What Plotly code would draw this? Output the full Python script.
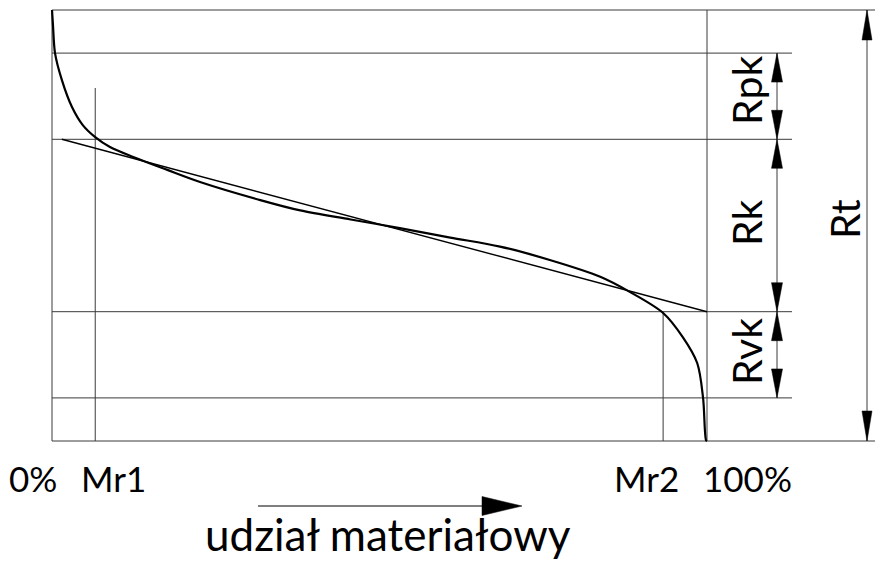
import plotly.graph_objects as go

# ---------------- data ----------------
# Abbott-Firestone (material ratio) curve: material ratio [%] vs. height [% of Rt]
curve_mr = [0, 0.15, 0.46, 1.5, 3.05, 4.7, 6.6, 8.85, 12.4, 17.6, 22.6, 31.8, 37.9,
            45.6, 53.1, 60.8, 68.4, 76.0, 83.7, 88.2, 93.3, 96.3, 98.5, 99.4, 99.85, 100]
curve_h = [100, 96.5, 90, 83.8, 77.5, 73.3, 70.5, 68.2, 65.9, 62.9, 60.1, 55.9, 53.5,
           51.4, 49.4, 47.2, 45.1, 42.0, 38.1, 34.6, 29.7, 24.1, 18.1, 10.0, 0.2, 0]

# equivalent straight line (core roughness line)
tangent_mr = [1.5, 100]
tangent_h = [70, 30]

# level lines: top (Rt), Rpk limit, Rk upper, Rk lower, Rvk limit, bottom
levels = [100, 90, 70, 30, 10, 0]
level_full = [True, False, False, False, False, True]   # lines running to the right edge

mr1 = 6.6
mr1_top = 81.9
mr2 = 93.3

dim_labels = ["Rpk", "Rk", "Rvk"]
dim_spans = [(90, 70), (70, 30), (30, 10)]
rt_label = "Rt"

bottom_labels = ["0%", "Mr1", "Mr2", "100%"]
axis_title = "udział materiałowy"

# ---------------- pixel mapping helpers (layout) ----------------
W, H = 875, 563
X0PX, SX = 52.0, 6.55      # px of 0 %, px per %
Y0PX, SY = 441.0, 4.31     # px of height 0, px per height unit


def px2x(px):
    return (px - X0PX) / SX


def py2y(py):
    return (Y0PX - py) / SY


XR = [px2x(0), px2x(W)]
YR = [py2y(H), py2y(0)]

x_full = px2x(W + 2)
x_dim = px2x(792)
x_dimarrow = px2x(777)
x_rtarrow = px2x(867)

GRID = dict(color="#3a3a3a", width=1)
fig = go.Figure()


def add_line(xs, ys, line):
    fig.add_trace(go.Scatter(x=xs, y=ys, mode="lines", line=line,
                             hoverinfo="skip", showlegend=False))


def add_tri(xs, ys):
    fig.add_trace(go.Scatter(x=xs + [xs[0]], y=ys + [ys[0]], mode="lines",
                             fill="toself", fillcolor="black",
                             line=dict(color="black", width=0.5),
                             hoverinfo="skip", showlegend=False))


def v_arrowhead(x, tip_h, direction, length_px=29, half_px=5.5):
    # direction +1: pointing up, -1: pointing down
    base = tip_h - direction * length_px / SY
    hw = half_px / SX
    add_tri([x, x - hw, x + hw], [tip_h, base, base])


# level lines
for lv, full in zip(levels, level_full):
    add_line([0, x_full if full else x_dim], [lv, lv], GRID)

# left border and 100 % vertical
add_line([0, 0], [levels[-1], levels[0]], GRID)
add_line([100, 100], [levels[-1], levels[0]], GRID)

# Mr1 / Mr2 verticals
add_line([mr1, mr1], [0, mr1_top], GRID)
add_line([mr2, mr2], [0, dim_spans[1][1]], GRID)

# tangent (equivalent) line
add_line(tangent_mr, tangent_h, dict(color="black", width=1.4))

# material ratio curve
add_line(curve_mr, curve_h, dict(color="black", width=2.2, shape="spline", smoothing=0.9))

# dimension arrows Rpk / Rk / Rvk
add_line([x_dimarrow, x_dimarrow], [dim_spans[0][0], dim_spans[-1][1]], GRID)
for top, bot in dim_spans:
    v_arrowhead(x_dimarrow, top, +1)
    v_arrowhead(x_dimarrow, bot, -1)

# Rt arrow
add_line([x_rtarrow, x_rtarrow], [levels[0], levels[-1]], GRID)
v_arrowhead(x_rtarrow, levels[0], +1, length_px=30, half_px=5)
v_arrowhead(x_rtarrow, levels[-1], -1, length_px=30, half_px=5)

# direction arrow under the axis
y_arr = py2y(506)
add_line([px2x(258), px2x(490)], [y_arr, y_arr], dict(color="black", width=1.2))
hh = 9.5 / SY
add_tri([px2x(522), px2x(482), px2x(482)], [y_arr, y_arr + hh, y_arr - hh])

# ---------------- text ----------------
FONT = "Lato"
annotations = []
dim_label_pos = [91, 223, 352]
for lab, ypx in zip(dim_labels, dim_label_pos):
    annotations.append(dict(x=px2x(746), y=py2y(ypx), text=lab, textangle=-90,
                            showarrow=False, xanchor="center", yanchor="middle",
                            font=dict(family=FONT, size=41, color="black")))
annotations.append(dict(x=px2x(844), y=py2y(219), text=rt_label, textangle=-90,
                        showarrow=False, xanchor="center", yanchor="middle",
                        font=dict(family=FONT, size=41, color="black")))

bottom_pos = [33, 113, 646, 747]
for lab, xpx in zip(bottom_labels, bottom_pos):
    annotations.append(dict(x=px2x(xpx), y=py2y(478), text=lab, showarrow=False,
                            xanchor="center", yanchor="middle",
                            font=dict(family=FONT, size=35, color="black")))

annotations.append(dict(x=px2x(388), y=py2y(534), text=axis_title, showarrow=False,
                        xanchor="center", yanchor="middle",
                        font=dict(family=FONT, size=44, color="black")))

fig.update_layout(
    width=W, height=H,
    margin=dict(l=0, r=0, t=0, b=0, pad=0),
    paper_bgcolor="white", plot_bgcolor="white",
    xaxis=dict(range=XR, visible=False, fixedrange=True),
    yaxis=dict(range=YR, visible=False, fixedrange=True),
    annotations=annotations,
    showlegend=False,
)

fig.write_html("out.html")
